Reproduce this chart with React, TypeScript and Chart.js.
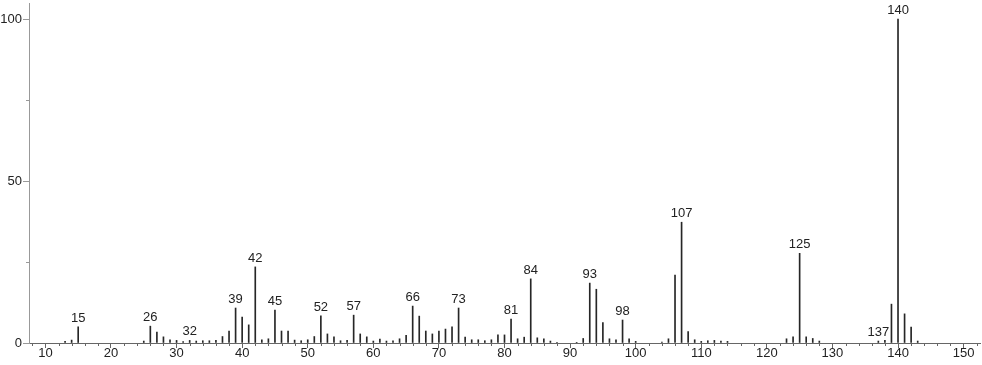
import React, { useEffect, useRef } from 'react';
import { Chart, registerables } from 'chart.js';

Chart.register(...registerables);

const masses = [
  13, 14, 15, 25, 26, 27, 28, 29, 30, 31, 32, 33, 34, 35, 36, 37, 38, 39, 40, 41, 42, 43, 44, 45, 46, 47, 48, 49, 50,
  51, 52, 53, 54, 55, 56, 57, 58, 59, 60, 61, 62, 63, 64, 65, 66, 67, 68, 69, 70, 71, 72, 73, 74, 75, 76, 77, 78, 79, 80,
  81, 82, 83, 84, 85, 86, 87, 88, 91, 92, 93, 94, 95, 96, 97, 98, 99, 100, 104, 105, 106, 107, 108, 109, 110, 111, 112,
  113, 114, 123, 124, 125, 126, 127, 128, 137, 138, 139, 140, 141, 142, 143,
];
const intensities = [
  0.5, 0.9, 5.0, 0.6, 5.2, 3.4, 1.9, 1.0, 0.8, 0.4, 0.8, 0.6, 0.7, 0.7, 0.8, 2.0, 3.7, 10.8, 8.0, 5.6, 23.5, 1.0, 1.3, 10.2, 3.7, 3.7, 0.9, 0.7, 1.0,
  2.0, 8.4, 2.8, 1.9, 0.7, 0.8, 8.6, 2.8, 1.9, 0.6, 1.2, 0.6, 0.7, 1.3, 2.4, 11.4, 8.3, 3.7, 2.8, 3.7, 4.3, 5.0, 10.8, 1.8, 1.0, 1.0, 0.7, 1.0, 2.5, 2.5,
  7.4, 1.3, 1.8, 19.8, 1.6, 1.3, 0.6, 0.2, 0.2, 1.4, 18.5, 16.6, 6.3, 1.3, 1.0, 7.1, 1.3, 0.5, 0.3, 1.3, 21.0, 37.3, 3.5, 1.0, 0.5, 0.7, 0.8,
  0.6, 0.5, 1.3, 1.9, 27.7, 1.9, 1.4, 0.6, 0.6, 0.8, 12.0, 100, 9.0, 4.9, 0.6,
];
const labeledPeaks = [15, 26, 32, 39, 42, 45, 52, 57, 66, 73, 81, 84, 93, 98, 107, 125, 137, 140];
const xTickLabels = [10, 20, 30, 40, 50, 60, 70, 80, 90, 100, 110, 120, 130, 140, 150];
const xMinorTicks = [
  8, 12, 14, 16, 18, 22, 24, 26, 28, 32, 34, 36, 38, 42, 44, 46, 48, 52, 54, 56, 58, 62, 64, 66, 68, 72, 74, 76, 78,
  82, 84, 86, 88, 92, 94, 96, 98, 102, 104, 106, 108, 112, 114, 116, 118, 122, 124, 126, 128, 132, 134, 136, 138,
  142, 144, 146, 148, 152,
];
const yTickLabels = [0, 50, 100];
const yMinorTicks = [25, 75];

const FONT = 'Liberation Sans';

export default function App() {
  const ref = useRef<HTMLCanvasElement>(null);

  useEffect(() => {
    const canvas = ref.current;
    if (!canvas) return;

    const tickPlugin = {
      id: 'minorTicks',
      afterDraw(chart: any) {
        const { ctx, scales } = chart;
        const x = scales.x;
        const y = scales.y;
        ctx.save();
        ctx.lineWidth = 1;
        ctx.strokeStyle = '#666';
        const base = y.bottom;
        xMinorTicks.forEach((v) => {
          const px = Math.round(x.getPixelForValue(v)) + 0.5;
          ctx.beginPath();
          ctx.moveTo(px, base);
          ctx.lineTo(px, base + 3);
          ctx.stroke();
        });
        ctx.strokeStyle = '#999';
        yMinorTicks.forEach((v) => {
          const py = Math.round(y.getPixelForValue(v)) + 0.5;
          ctx.beginPath();
          ctx.moveTo(x.left - 3, py);
          ctx.lineTo(x.left, py);
          ctx.stroke();
        });
        ctx.restore();
      },
    };

    const labelPlugin = {
      id: 'peakLabels',
      afterDatasetsDraw(chart: any) {
        const { ctx, scales } = chart;
        const x = scales.x;
        const y = scales.y;
        ctx.save();
        ctx.font = `13px "${FONT}"`;
        ctx.fillStyle = '#222';
        ctx.textAlign = 'center';
        ctx.textBaseline = 'alphabetic';
        labeledPeaks.forEach((m) => {
          const i = masses.indexOf(m);
          if (i < 0) return;
          const px = x.getPixelForValue(m);
          const py = y.getPixelForValue(intensities[i]);
          ctx.fillText(String(m), px, py - 5);
        });
        ctx.restore();
      },
    };

    const chart = new Chart(canvas, {
      type: 'bar',
      data: {
        datasets: [
          {
            data: masses.map((m, i) => ({ x: m, y: intensities[i] })),
            backgroundColor: '#262626',
            borderWidth: 0,
            barThickness: 1,
          } as any,
        ],
      },
      options: {
        responsive: false,
        animation: false,
        layout: { padding: { top: 3, right: 2, left: 0, bottom: 0 } },
        plugins: { legend: { display: false }, tooltip: { enabled: false } },
        scales: {
          x: {
            type: 'linear',
            offset: false,
            min: 7.5,
            max: 152.5,
            afterBuildTicks: (s: any) => {
              s.ticks = xTickLabels.map((v) => ({ value: v }));
            },
            grid: { display: true, offset: false, drawOnChartArea: false, drawTicks: true, tickLength: 5, color: '#666' },
            border: { color: '#666' },
            ticks: {
              font: { family: FONT, size: 13 },
              color: '#222',
              padding: -2,
              maxRotation: 0,
              autoSkip: false,
            },
            afterFit: (s: any) => {
              s.height = 22;
              s.paddingLeft = 0;
              s.paddingRight = 0;
            },
          },
          y: {
            type: 'linear',
            min: 0,
            max: 105,
            afterBuildTicks: (s: any) => {
              s.ticks = yTickLabels.map((v) => ({ value: v }));
            },
            grid: { display: true, drawOnChartArea: false, drawTicks: true, tickLength: 6, color: '#999' },
            border: { color: '#999' },
            ticks: {
              font: { family: FONT, size: 13 },
              color: '#222',
              padding: 1,
              autoSkip: false,
            },
            afterFit: (s: any) => {
              s.width = 29;
              s.paddingTop = 0;
              s.paddingBottom = 0;
            },
          },
        },
      } as any,
      plugins: [tickPlugin, labelPlugin],
    });

    return () => chart.destroy();
  }, []);

  return (
    <div style={{ position: 'absolute', left: 0, top: 0, width: 982, height: 365, background: '#fff' }}>
      <canvas ref={ref} width={982} height={365} style={{ display: 'block' }} />
    </div>
  );
}
